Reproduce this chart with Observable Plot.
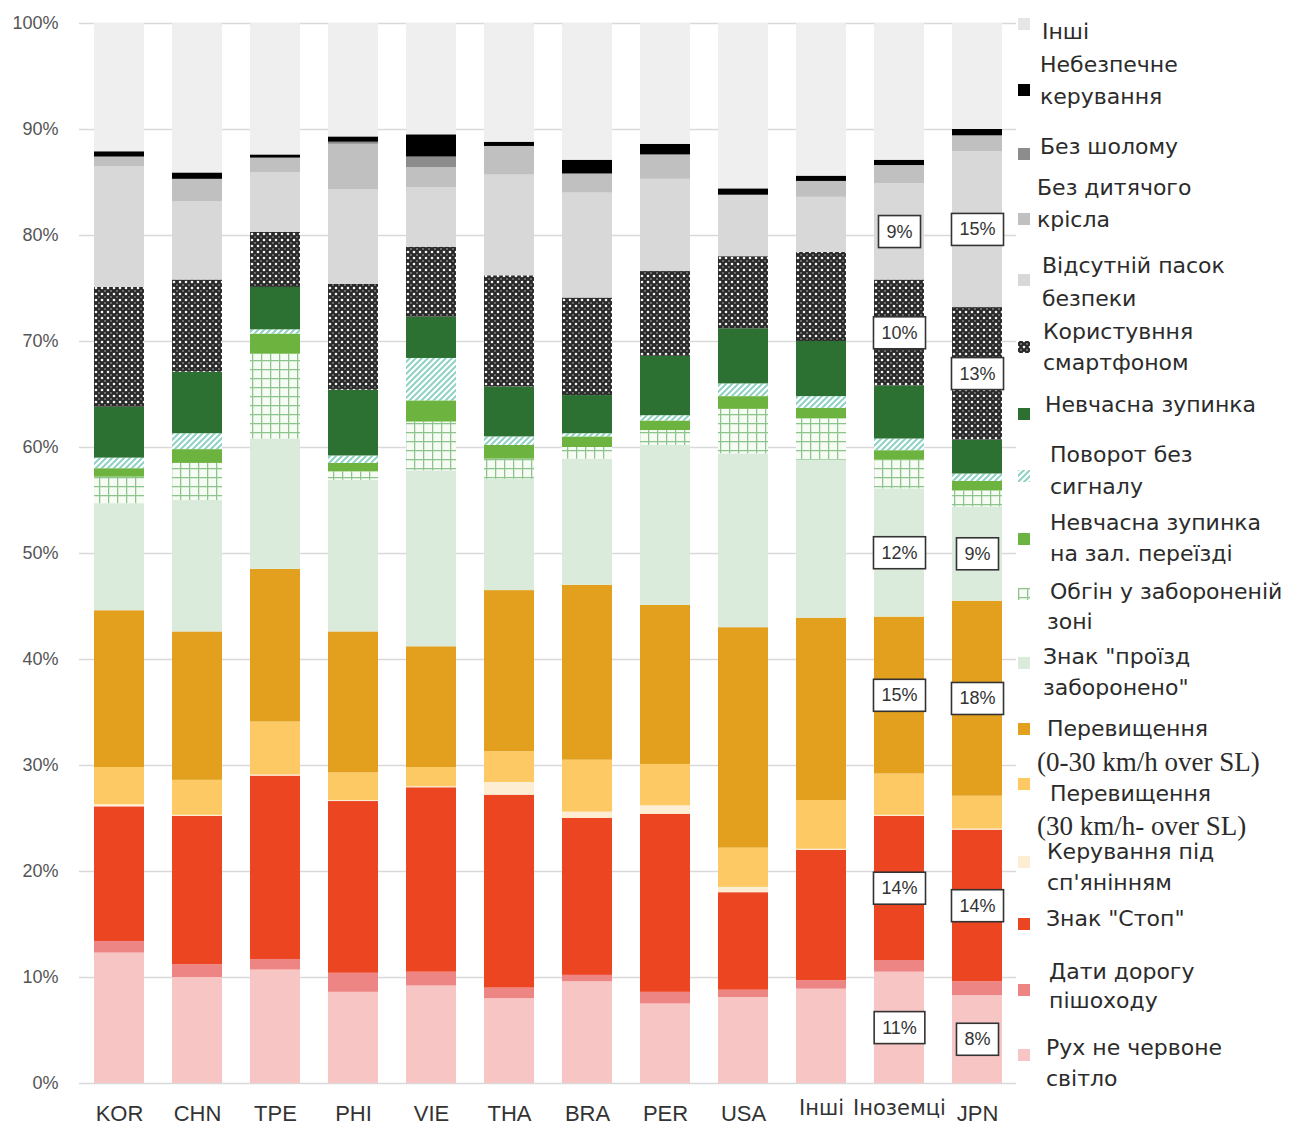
<!DOCTYPE html>
<html>
<head>
<meta charset="utf-8">
<script src="https://cdn.jsdelivr.net/npm/d3@7"></script>
<script src="https://cdn.jsdelivr.net/npm/@observablehq/plot@0.6"></script>
<style>
  body { margin: 0; background: #fff; }
  #wrap { position: relative; width: 1299px; height: 1126px; overflow: hidden; }
  .lg-line { position: absolute; font-family: "DejaVu Sans", sans-serif; font-size: 22px; color: #2b2b2b; white-space: nowrap; line-height: 1; transform: translateY(-50%); }
  .lg-serif { font-family: "Liberation Serif", "Times New Roman", serif; font-size: 27px; }
  .lg-sw { position: absolute; width: 12px; height: 12px; }
</style>
</head>
<body>
<svg width="0" height="0" style="position:absolute">
  <defs>
    <pattern id="pSmart" patternUnits="userSpaceOnUse" width="6" height="6">
      <rect width="6" height="6" fill="#2a2a2a"></rect>
      <circle cx="0" cy="0" r="1.3" fill="#f4f4f4"></circle>
      <circle cx="6" cy="0" r="1.3" fill="#f4f4f4"></circle>
      <circle cx="0" cy="6" r="1.3" fill="#f4f4f4"></circle>
      <circle cx="6" cy="6" r="1.3" fill="#f4f4f4"></circle>
      <circle cx="3" cy="3" r="0.9" fill="#8a8a8a"></circle>
    </pattern>
    <pattern id="pGrid" patternUnits="userSpaceOnUse" width="9" height="9">
      <rect width="9" height="9" fill="#f6fbf4"></rect>
      <path d="M0 0.6H9M0.6 0V9" stroke="#8cc58c" stroke-width="1.3" fill="none"></path>
    </pattern>
    <pattern id="pHatch" patternUnits="userSpaceOnUse" width="6" height="6">
      <rect width="6" height="6" fill="#ffffff"></rect>
      <path d="M-1 1L1 -1M0 6L6 0M5 7L7 5" stroke="#8fd2c4" stroke-width="2" fill="none"></path>
    </pattern>
  </defs>
</svg>
<div id="wrap"></div>
<script>
// ---- data ----
const countries = ["KOR", "CHN", "TPE", "PHI", "VIE", "THA", "BRA", "PER", "USA", "Інші", "Іноземці", "JPN"];

// categories, bottom to top of each bar
const categories = [
  "Рух не червоне світло",
  "Дати дорогу пішоходу",
  "Знак \"Стоп\"",
  "Керування під сп'янінням",
  "Перевищення (30 km/h- over SL)",
  "Перевищення (0-30 km/h over SL)",
  "Знак \"проїзд заборонено\"",
  "Обгін у забороненій зоні",
  "Невчасна зупинка на зал. переїзді",
  "Поворот без сигналу",
  "Невчасна зупинка",
  "Користувння смартфоном",
  "Відсутній пасок безпеки",
  "Без дитячого крісла",
  "Без шолому",
  "Небезпечне керування",
  "Інші"
];

const redLight    = [12.3, 10.0, 10.7, 8.6, 9.2, 8.0, 9.6, 7.5, 8.1, 8.9, 10.5, 8.3];
const pedestrian  = [1.1, 1.2, 1.0, 1.8, 1.3, 1.0, 0.6, 1.1, 0.7, 0.8, 1.1, 1.3];
const stopSign    = [12.7, 14.0, 17.3, 16.2, 17.4, 18.2, 14.8, 16.8, 9.2, 12.3, 13.6, 14.3];
const drunk       = [0.2, 0.1, 0.1, 0.1, 0.1, 1.2, 0.6, 0.8, 0.5, 0.1, 0.1, 0.1];
const speed30plus = [3.5, 3.3, 5.0, 2.6, 1.8, 2.9, 4.9, 3.9, 3.7, 4.6, 3.9, 3.1];
const speed0to30  = [14.8, 14.0, 14.4, 13.3, 11.4, 15.2, 16.5, 15.0, 20.8, 17.2, 14.8, 18.4];
const noEntry     = [10.1, 12.4, 12.3, 14.3, 16.6, 10.5, 11.9, 15.1, 16.4, 14.9, 12.1, 8.9];
const overtaking  = [2.5, 3.5, 8.0, 0.8, 4.6, 1.9, 1.1, 1.4, 4.2, 3.9, 2.7, 1.5];
const railStop    = [0.8, 1.3, 1.9, 0.8, 2.0, 1.3, 1.0, 0.9, 1.2, 1.0, 0.9, 0.9];
const noSignal    = [1.0, 1.5, 0.4, 0.7, 4.0, 0.8, 0.3, 0.5, 1.2, 1.1, 1.1, 0.7];
const failStop    = [4.8, 5.8, 4.0, 6.2, 3.9, 4.7, 3.6, 5.6, 5.2, 5.2, 5.0, 3.2];
const smartphone  = [11.3, 8.7, 5.2, 10.0, 6.6, 10.5, 9.2, 8.0, 6.8, 8.4, 10.0, 12.5];
const seatBelt    = [11.4, 7.4, 5.6, 8.9, 5.6, 9.5, 9.9, 8.7, 5.8, 5.2, 9.1, 14.7];
const childSeat   = [0.9, 2.1, 1.4, 4.3, 1.9, 2.7, 1.8, 2.3, 0.0, 1.5, 1.7, 1.5];
const helmet      = [0.0, 0.0, 0.0, 0.2, 1.0, 0.0, 0.0, 0.0, 0.0, 0.0, 0.0, 0.0];
const dangerous   = [0.5, 0.6, 0.3, 0.5, 2.1, 0.4, 1.3, 1.0, 0.6, 0.5, 0.5, 0.6];
const others      = [12.1, 14.1, 12.4, 10.7, 10.5, 11.2, 12.9, 11.4, 15.6, 14.4, 12.9, 10.0];

const seriesValues = [redLight, pedestrian, stopSign, drunk, speed30plus, speed0to30, noEntry,
  overtaking, railStop, noSignal, failStop, smartphone, seatBelt, childSeat, helmet, dangerous, others];

// boxed value labels
const labeledCountries = ["Іноземці", "JPN"];
const labeledCategories = ["Рух не червоне світло", "Знак \"Стоп\"", "Перевищення (0-30 km/h over SL)",
  "Знак \"проїзд заборонено\"", "Користувння смартфоном", "Відсутній пасок безпеки"];

const yTicks = [0, 10, 20, 30, 40, 50, 60, 70, 80, 90, 100];

// legend text, top to bottom
const legendLabels = [
  ["Інші"],
  ["Небезпечне", "керування"],
  ["Без шолому"],
  ["Без дитячого", "крісла"],
  ["Відсутній пасок", "безпеки"],
  ["Користувння", "смартфоном"],
  ["Невчасна зупинка"],
  ["Поворот без", "сигналу"],
  ["Невчасна зупинка", "на зал. переїзді"],
  ["Обгін у забороненій", "зоні"],
  ["Знак \"проїзд", "заборонено\""],
  ["Перевищення", "(0-30 km/h over SL)"],
  ["Перевищення", "(30 km/h- over SL)"],
  ["Керування під", "сп'янінням"],
  ["Знак \"Стоп\""],
  ["Дати дорогу", "пішоходу"],
  ["Рух не червоне", "світло"]
];

// ---- styles / layout ----
const fills = ["#f8c5c5", "#ee8585", "#ec4522", "#fdeed3", "#fdc964", "#e2a01e", "#dbebdb",
  "url(#pGrid)", "#6cb43f", "url(#pHatch)", "#2c7131", "url(#pSmart)", "#d8d8d8", "#c0c0c0",
  "#8c8c8c", "#000000", "#efefef"];
const legendSwatchFills = ["#e6e6e6", "#000000", "#8c8c8c", "#c0c0c0", "#d8d8d8", "url(#pSmart)", "#2c7131",
  "url(#pHatch)", "#6cb43f", "url(#pGrid)", "#dbebdb", "#e2a01e", "#fdc964", "#fdeed3", "#ec4522", "#ee8585", "#f8c5c5"];
const legendLineY = [[32], [65, 97], [147], [188, 220], [266, 299], [332, 363], [405], [455, 487], [523, 554],
  [592, 622], [657, 688], [729, 762], [794, 826], [852, 883], [919], [972, 1001], [1048, 1079]];
const legendLineX = [[1042], [1040, 1040], [1040], [1037, 1037], [1042, 1042], [1043, 1043], [1045], [1050, 1050],
  [1050, 1050], [1050, 1047], [1043, 1043], [1047, 1037], [1050, 1037], [1047, 1047], [1046], [1049, 1049], [1046, 1046]];
const legendSwatchY = [22, 88, 152, 217, 278, 345, 412, 474, 537, 592, 661, 727, 782, 860, 922, 988, 1053];

// ---- build rows ----
const rows = [];
categories.forEach((cat, ci) => {
  seriesValues[ci].forEach((v, i) => {
    const c = countries[i];
    rows.push({
      country: c,
      category: cat,
      value: v,
      label: (labeledCountries.includes(c) && labeledCategories.includes(cat)) ? Math.round(v) + "%" : null
    });
  });
});

const latinTicks = countries.filter(c => /^[A-Z]+$/.test(c));
const cyrTicks = countries.filter(c => !/^[A-Z]+$/.test(c));

const chart = Plot.plot({
  width: 1299,
  height: 1126,
  marginLeft: 79,
  marginRight: 283,
  marginTop: 23,
  marginBottom: 43,
  style: { background: "transparent", fontFamily: "'Liberation Sans', Arial, sans-serif", overflow: "visible" },
  x: { domain: countries, paddingInner: 0.36, paddingOuter: 0.18, axis: null },
  y: { domain: [0, 100], axis: null },
  color: { domain: categories, range: fills },
  marks: [
    Plot.gridY({ ticks: yTicks, stroke: "#d9d9d9", strokeOpacity: 1, strokeWidth: 1.5 }),
    Plot.axisY({ ticks: yTicks, tickSize: 0, tickPadding: 21, tickFormat: d => d + "%", fontSize: 18, color: "#555", label: null }),
    Plot.axisX({ ticks: latinTicks, tickSize: 0, tickPadding: 22, fontSize: 22, color: "#333", label: null }),
    Plot.axisX({ ticks: cyrTicks, tickSize: 0, tickPadding: 17, fontSize: 21, fontFamily: "DejaVu Sans", color: "#333", label: null }),
    Plot.barY(rows, { x: "country", y: "value", fill: "category" }),
    Plot.text(rows, Plot.stackY({ x: "country", y: "value", z: "category", text: "label", fontSize: 18, fill: "#333", fontFamily: "'Liberation Sans', Arial, sans-serif" }))
  ]
});

const wrap = document.getElementById("wrap");
wrap.appendChild(chart);

// boxes behind value labels
const textGroups = chart.querySelectorAll('g[aria-label="text"]');
textGroups.forEach(g => {
  g.querySelectorAll("text").forEach(t => {
    if (!t.textContent) return;
    const b = t.getBBox();
    const r = document.createElementNS("http://www.w3.org/2000/svg", "rect");
    const padX = 8, padY = 6;
    r.setAttribute("x", b.x - padX);
    r.setAttribute("y", b.y - padY);
    r.setAttribute("width", b.width + 2 * padX);
    r.setAttribute("height", b.height + 2 * padY);
    r.setAttribute("fill", "#ffffff");
    r.setAttribute("stroke", "#333");
    r.setAttribute("stroke-width", "1.6");
    const tr = t.getAttribute("transform");
    if (tr) r.setAttribute("transform", tr);
    g.insertBefore(r, t);
  });
});

// legend
legendLabels.forEach((lines, k) => {
  const sw = document.createElement("div");
  sw.className = "lg-sw";
  sw.style.left = "1018px";
  sw.style.top = (legendSwatchY[k] - 6) + "px";
  sw.innerHTML = `<svg width="12" height="12"><rect width="12" height="12" fill="${legendSwatchFills[k]}"></rect></svg>`;
  wrap.appendChild(sw);
  lines.forEach((line, j) => {
    const d = document.createElement("div");
    d.className = "lg-line" + (line.startsWith("(") ? " lg-serif" : "");
    d.style.left = legendLineX[k][j] + "px";
    d.style.top = legendLineY[k][j] + "px";
    d.textContent = line;
    wrap.appendChild(d);
  });
});
</script>
</body>
</html>
